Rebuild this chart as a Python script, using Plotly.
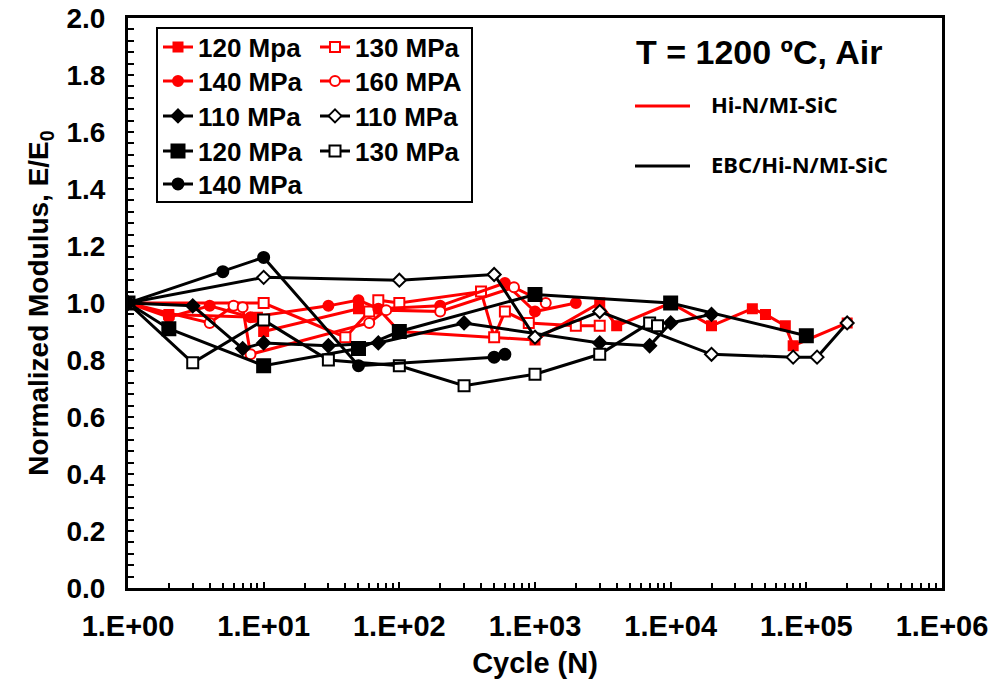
import plotly.graph_objects as go

# ---------------- data ----------------
x_labels = ["1.E+00", "1.E+01", "1.E+02", "1.E+03", "1.E+04", "1.E+05", "1.E+06"]
x_ticks = [1, 10, 100, 1000, 10000, 100000, 1000000]

# Hi-N/MI-SiC (red)
r120_x = [1, 2, 9, 10, 50, 70, 100, 1000, 3000, 4000, 10000, 20000, 40000, 50000, 70000, 80000, 200000]
r120_y = [1.00, 0.96, 0.95, 0.90, 0.98, 0.98, 0.90, 0.87, 1.00, 0.92, 1.00, 0.92, 0.98, 0.96, 0.92, 0.85, 0.93]

r130_x = [1, 10, 40, 60, 70, 100, 400, 500, 600, 900, 2000, 3000]
r130_y = [1.00, 1.00, 0.88, 0.97, 1.01, 1.00, 1.04, 0.88, 0.97, 0.93, 0.92, 0.92]

r140_x = [1, 2, 4, 8, 30, 50, 70, 200, 600, 1000, 2000]
r140_y = [1.00, 0.95, 0.99, 0.95, 0.99, 1.01, 0.98, 0.99, 1.07, 0.97, 1.00]

r160_x = [1, 4, 6, 7, 8, 60, 80, 200, 700, 1200]
r160_y = [1.00, 0.93, 0.99, 0.985, 0.82, 0.93, 0.975, 0.97, 1.055, 1.00]

# EBC/Hi-N/MI-SiC (black)
b110d_x = [1, 3, 7, 10, 30, 70, 300, 3000, 7000, 10000, 20000]
b110d_y = [1.00, 0.99, 0.84, 0.86, 0.85, 0.86, 0.93, 0.86, 0.85, 0.93, 0.96]

b110o_x = [1, 10, 100, 500, 1000, 3000, 20000, 80000, 120000, 200000]
b110o_y = [1.00, 1.09, 1.08, 1.10, 0.88, 0.97, 0.82, 0.81, 0.81, 0.93]

b120_x = [1, 2, 10, 50, 100, 1000, 10000, 100000]
b120_y = [1.00, 0.91, 0.78, 0.84, 0.90, 1.03, 1.00, 0.885]

b130o_x = [1, 3, 10, 30, 100, 300, 1000, 3000, 7000, 8000]
b130o_y = [1.00, 0.79, 0.94, 0.80, 0.78, 0.71, 0.75, 0.82, 0.93, 0.92]

b140_x = [1, 5, 10, 50, 500, 600]
b140_y = [1.00, 1.11, 1.16, 0.78, 0.81, 0.82]

series = [
    ("120 Mpa", r120_x, r120_y, "red", "square", "red", 9),
    ("130 MPa", r130_x, r130_y, "red", "square", "white", 10),
    ("140 MPa", r140_x, r140_y, "red", "circle", "red", 10),
    ("160 MPA", r160_x, r160_y, "red", "circle", "white", 10),
    ("110 MPa", b110d_x, b110d_y, "black", "diamond", "black", 10),
    ("110 MPa", b110o_x, b110o_y, "black", "diamond", "white", 10),
    ("120 MPa", b120_x, b120_y, "black", "square", "black", 13),
    ("130 MPa", b130o_x, b130o_y, "black", "square", "white", 11),
    ("140 MPa", b140_x, b140_y, "black", "circle", "black", 11),
]

FONT = "Liberation Sans, Arial, sans-serif"
W, H = 995, 686
L, R, T, B = 128, 53, 18, 98


def px2paper_x(px):
    return (px - L) / (W - L - R)


def px2paper_y(py):
    return (H - B - py) / (H - T - B)


fig = go.Figure()

# legend layout: rows/cols (pixel positions in the page)
row_y = [47, 81, 116, 151, 184]
col_x = [158, 315]

layout_legends = {}
for i, (name, xs, ys, col, sym, fill, size) in enumerate(series):
    key = "legend" if i == 0 else f"legend{i+1}"
    fig.add_trace(go.Scatter(
        x=xs, y=ys, name=name, mode="lines+markers",
        line=dict(color=col, width=3),
        marker=dict(symbol=sym, size=size, color=fill,
                    line=dict(color=col, width=2)),
        legend=key, showlegend=True,
    ))
    r, c = divmod(i, 2)
    layout_legends[key] = dict(
        xref="paper", yref="paper",
        x=px2paper_x(col_x[c]), y=px2paper_y(row_y[r]),
        xanchor="left", yanchor="middle",
        bgcolor="rgba(0,0,0,0)", borderwidth=0,
        font=dict(family=FONT, size=26, color="black", weight="bold"),
        itemsizing="trace", itemclick=False,
    )

shapes = [
    # legend frame
    dict(type="rect", xref="paper", yref="paper",
         x0=px2paper_x(157), x1=px2paper_x(472),
         y0=px2paper_y(28), y1=px2paper_y(202),
         line=dict(color="black", width=2), fillcolor="rgba(0,0,0,0)", layer="above"),
    # material key samples
    dict(type="line", xref="paper", yref="paper",
         x0=px2paper_x(635), x1=px2paper_x(690), y0=px2paper_y(106), y1=px2paper_y(106),
         line=dict(color="red", width=3)),
    dict(type="line", xref="paper", yref="paper",
         x0=px2paper_x(635), x1=px2paper_x(690), y0=px2paper_y(166), y1=px2paper_y(166),
         line=dict(color="black", width=3)),
]

annotations = [
    dict(text="T = 1200 ºC, Air", xref="paper", yref="paper",
         x=px2paper_x(759), y=px2paper_y(52), xanchor="center", yanchor="middle",
         showarrow=False, font=dict(family=FONT, size=34, color="black", weight="bold")),
    dict(text="Hi-N/MI-SiC", xref="paper", yref="paper",
         x=px2paper_x(709), y=px2paper_y(104), xanchor="left", yanchor="middle",
         showarrow=False, font=dict(family="Noto Sans", size=22, color="black", weight="bold")),
    dict(text="EBC/Hi-N/MI-SiC", xref="paper", yref="paper",
         x=px2paper_x(709), y=px2paper_y(164), xanchor="left", yanchor="middle",
         showarrow=False, font=dict(family="Noto Sans", size=22, color="black", weight="bold")),
]

minor_x = [m * 10 ** k for k in range(6) for m in range(2, 10)]

fig.update_layout(
    width=W, height=H,
    margin=dict(l=L, r=R, t=T, b=B, pad=0, autoexpand=False),
    paper_bgcolor="white", plot_bgcolor="white",
    font=dict(family=FONT, color="black"),
    shapes=shapes, annotations=annotations,
    **layout_legends,
)

fig.update_xaxes(
    type="log", range=[0, 6.0001],
    tickvals=x_ticks, ticktext=x_labels, tickangle=0,
    ticks="inside", ticklen=6, tickwidth=2, tickcolor="black",
    minor=dict(tickvals=minor_x, ticks="inside", ticklen=5, tickwidth=2, tickcolor="black", showgrid=False),
    showline=True, linewidth=3, linecolor="black", mirror=True,
    showgrid=False, zeroline=False, automargin=False,
    tickfont=dict(family=FONT, size=29, color="black", weight="bold"),
    ticklabelstandoff=10,
    title=dict(text="Cycle (N)", font=dict(family=FONT, size=29, color="black", weight="bold"), standoff=12),
)
fig.update_yaxes(
    range=[0, 2], dtick=0.2, tickformat=".1f",
    ticks="inside", ticklen=6, tickwidth=2, tickcolor="black",
    minor=dict(dtick=0.04, ticks="inside", ticklen=6, tickwidth=2, tickcolor="black", showgrid=False),
    showline=True, linewidth=3, linecolor="black", mirror=True,
    showgrid=False, zeroline=False, automargin=False,
    tickfont=dict(family=FONT, size=28, color="black", weight="bold"),
    ticklabelstandoff=14,
    title=dict(text="Normalized Modulus, E/E<sub>0</sub>",
               font=dict(family=FONT, size=28, color="black", weight="bold"), standoff=10),
)

fig.write_html("out.html")
